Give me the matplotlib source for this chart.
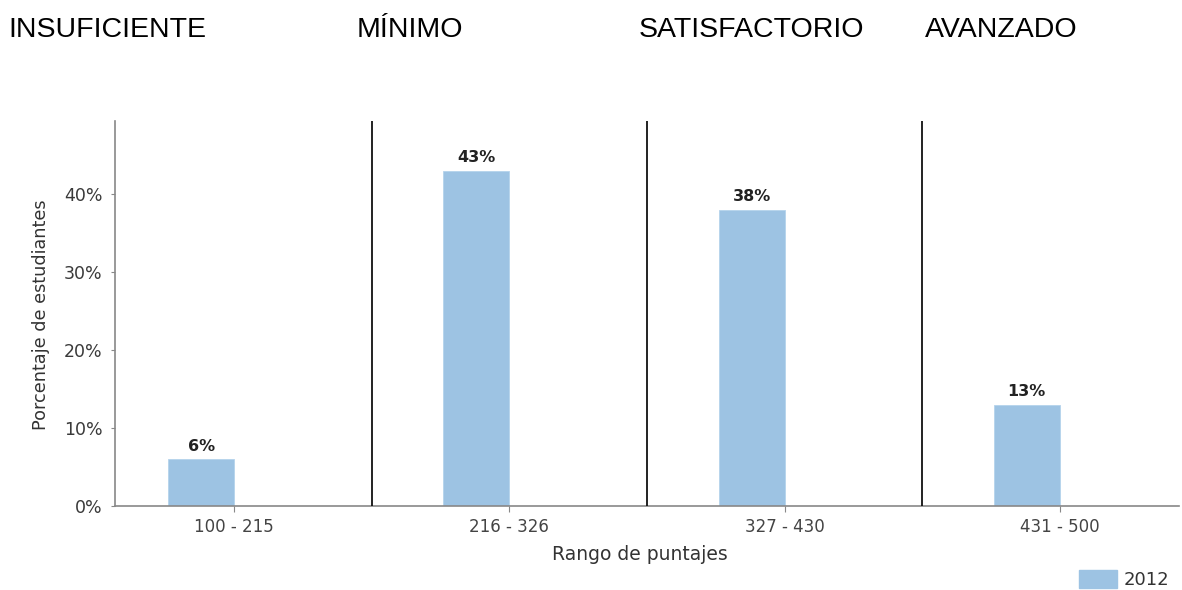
import matplotlib
matplotlib.use("Agg")
import matplotlib.pyplot as plt
from matplotlib.patches import Patch

categories = ["100 - 215", "216 - 326", "327 - 430", "431 - 500"]
values_2012 = [6, 43, 38, 13]
levels = ["INSUFICIENTE", "MÍNIMO", "SATISFACTORIO", "AVANZADO"]
yticks = [0, 10, 20, 30, 40]
series_name = "2012"

W, H = 1182, 590
fig = plt.figure(figsize=(W / 100, H / 100), dpi=100)
ax = fig.add_axes([115 / W, 1 - 506 / H, (1179 - 115) / W, (506 - 121) / H])

FONT = "DejaVu Sans"
x = list(range(len(categories)))
bw = 0.24
color = "#9dc3e3"
ax.bar([xi - bw / 2 for xi in x], values_2012, width=bw, color=color,
       edgecolor="#b5d3ec", linewidth=0.6, zorder=2)
for xi, v in zip(x, values_2012):
    ax.text(xi - bw / 2, v + 0.7, f"{v}%", ha="center", va="bottom",
            fontsize=11.5, fontweight="bold", color="#222222", family=FONT)

for sep in [0.5, 1.5, 2.5]:
    ax.axvline(sep, color="#111111", linewidth=1.3, zorder=3)

ax.set_xlim(-0.433, 3.433)
ax.set_ylim(0, 49.36)
ax.set_xticks(x)
ax.set_xticklabels(categories, fontsize=12, color="#444444", family=FONT)
ax.set_yticks(yticks)
ax.set_yticklabels([f"{t}%" for t in yticks], fontsize=12.5, color="#3a3a3a",
                   family=FONT)
ax.tick_params(axis="x", length=4, color="#888888", pad=5)
ax.tick_params(axis="y", length=3, color="#888888", pad=6)
for s in ["top", "right"]:
    ax.spines[s].set_visible(False)
for s in ["left", "bottom"]:
    ax.spines[s].set_color("#888888")
    ax.spines[s].set_linewidth(1.2)

ax.set_xlabel("Rango de puntajes", fontsize=13.5, color="#333333", family=FONT)
ax.xaxis.set_label_coords((640 - 115) / 1064, (506 - 555) / 385)
ax.xaxis.label.set_va("center")
ax.set_ylabel("Porcentaje de estudiantes", fontsize=12.7, color="#333333", family=FONT)
ax.yaxis.set_label_coords((41 - 115) / 1064, (506 - 314.5) / 385)
ax.yaxis.label.set_va("center")

leg = fig.legend(handles=[Patch(facecolor=color, edgecolor=color, label=series_name)],
                 loc="lower right", bbox_to_anchor=(1169 / W, 1 / H), frameon=False,
                 prop={"family": FONT, "size": 13}, handlelength=2.15,
                 handleheight=1.1, handletextpad=0.33, borderaxespad=0.0, borderpad=0.0)
for t in leg.get_texts():
    t.set_color("#333333")

label_x = [8, 357, 639, 925]
for lx, lab in zip(label_x, levels):
    fig.text(lx / W, 1 - 37 / H, lab, ha="left", va="baseline", fontsize=20.5,
             family="Liberation Sans", color="#000000")

fig.savefig("out.png", dpi=100)
